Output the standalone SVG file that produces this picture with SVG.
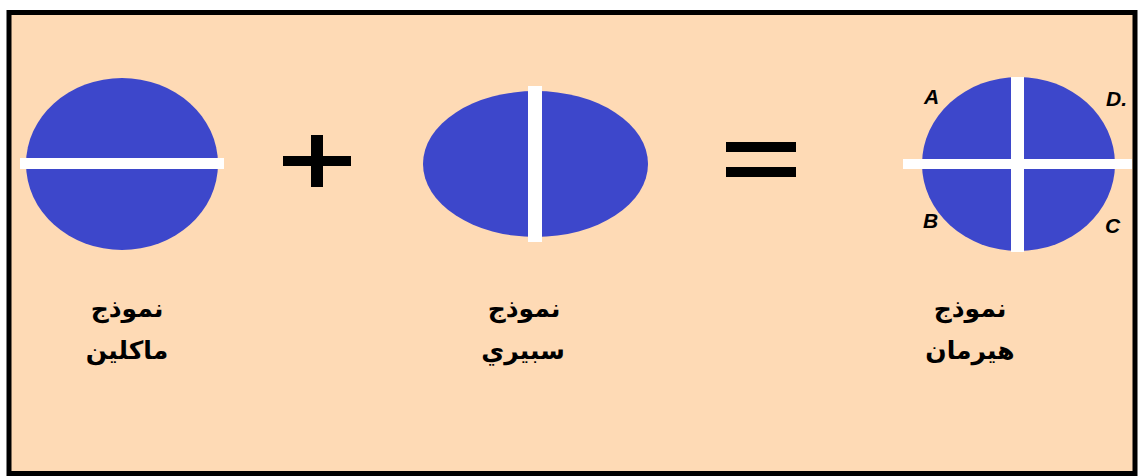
<svg xmlns="http://www.w3.org/2000/svg" width="1138" height="476" viewBox="0 0 1138 476">
<style>
.blob{fill:#3D47CB}
.bar{fill:#FFFFFF}
.sym{fill:#000000}
.lbl{font-family:"DejaVu Sans","Noto Sans",sans-serif;font-weight:bold;font-size:25px;fill:#000;text-anchor:middle}
.let{font-family:"Liberation Sans",Arial,sans-serif;font-weight:bold;font-style:italic;font-size:21px;fill:#000}
</style>
<rect x="0" y="0" width="1138" height="476" fill="#FFFFFF"/>
<rect x="9" y="12.5" width="1126" height="461" fill="#FEDAB5" stroke="#000" stroke-width="5"/>
<g id="maclean">
<ellipse class="blob" cx="122" cy="164" rx="96" ry="86"/>
<rect class="bar" x="20" y="158" width="204" height="11"/>
<text class="lbl" x="127" y="317">نموذج</text>
<text class="lbl" x="127" y="359">ماكلين</text>
</g>
<g id="plus">
<rect class="sym" x="311" y="135" width="12" height="52"/>
<rect class="sym" x="283" y="156" width="68" height="10"/>
</g>
<g id="sperry">
<ellipse class="blob" cx="535.5" cy="164" rx="112.5" ry="73"/>
<rect class="bar" x="528" y="86" width="14" height="156"/>
<text class="lbl" x="524" y="317">نموذج</text>
<text class="lbl" x="523" y="359">سبيري</text>
</g>
<g id="equals">
<rect class="sym" x="726" y="142" width="70" height="10"/>
<rect class="sym" x="726" y="167" width="70" height="10"/>
</g>
<g id="herrmann">
<ellipse class="blob" cx="1018.5" cy="164" rx="96.5" ry="87"/>
<rect class="bar" x="1011" y="77" width="13" height="175"/>
<rect class="bar" x="903" y="159" width="229" height="10"/>
<text class="let" x="924" y="104">A</text>
<text class="let" x="1106" y="106">D.</text>
<text class="let" x="923" y="228">B</text>
<text class="let" x="1105" y="233">C</text>
<text class="lbl" x="970" y="317">نموذج</text>
<text class="lbl" x="970" y="359">هيرمان</text>
</g>
<g id="connectors"/>
</svg>
